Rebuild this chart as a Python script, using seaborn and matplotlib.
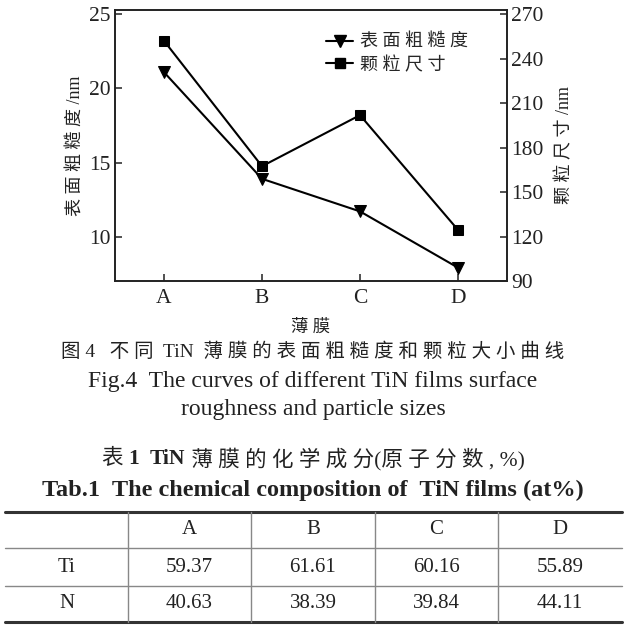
import matplotlib
matplotlib.use("Agg")
import matplotlib.pyplot as plt
from matplotlib.lines import Line2D
import seaborn as sns
import pandas as pd

# ---- data ----
films = ["A", "B", "C", "D"]
roughness = [21.1, 13.9, 11.7, 7.9]          # 表面粗糙度 /nm (left axis)
grain_size = [252.2, 167.5, 202.0, 124.5]    # 颗粒尺寸 /nm (right axis)
left_ticks = [10, 15, 20, 25]
right_ticks = [90, 120, 150, 180, 210, 240, 270]

table_cols = ["A", "B", "C", "D"]
table_rows = ["Ti", "N"]
ti_vals = ["59.37", "61.61", "60.16", "55.89"]
n_vals = ["40.63", "38.39", "39.84", "44.11"]

sns.set_style("ticks")
plt.rcParams['font.family'] = ['Liberation Serif', 'Noto Sans CJK SC']
plt.rcParams['axes.unicode_minus'] = False

W, H = 626, 629
fig = plt.figure(figsize=(W / 100, H / 100), dpi=100)

ax = fig.add_axes([115 / W, 1 - 281 / H, (507 - 115) / W, (281 - 10) / H])
df = pd.DataFrame({"film": films, "rough": roughness, "size": grain_size})

sns.lineplot(data=df, x="film", y="rough", marker="v", markersize=8,
             color="black", linewidth=1.5, markeredgecolor="black", ax=ax,
             sort=False)
ax2 = ax.twinx()
sns.lineplot(data=df, x="film", y="size", marker="s", markersize=6.5,
             color="black", linewidth=1.5, markeredgecolor="black", ax=ax2,
             sort=False)

ax.set_xlim(-0.5, 3.5)
ax.set_ylim(7, 25.3)
ax2.set_ylim(90, 273)
ax.set_yticks(left_ticks)
ax2.set_yticks(right_ticks)

for a in (ax, ax2):
    for s in a.spines.values():
        s.set_linewidth(1.2)
        s.set_color("#222222")
    a.tick_params(direction="in", length=5, width=1.1, color="#222222",
                  labelsize=15.5, labelcolor="#222222")
ax.tick_params(axis="y", pad=3)
ax.tick_params(axis="x", pad=6)
ax2.tick_params(axis="y", pad=3)

ax.set_xlabel("薄 膜", fontsize=12.5, color="#222222", labelpad=8)
ax.set_ylabel("表 面 粗 糙 度 /nm", fontsize=13, color="#222222", labelpad=3)
ax2.set_ylabel("颗 粒 尺 寸 /nm", fontsize=13, color="#222222", labelpad=9)

handles = [Line2D([], [], color="black", marker="v", markersize=8, linewidth=1.5),
           Line2D([], [], color="black", marker="s", markersize=6.5, linewidth=1.5)]
fig.legend(handles, ["表 面 粗 糙 度", "颗 粒 尺 寸"], loc="upper left",
           bbox_to_anchor=(326 / W, 1 - 34 / H), frameon=False, fontsize=13,
           handlelength=1.5, handletextpad=0.4, labelspacing=0.3,
           borderpad=0, borderaxespad=0)

# ---- captions and table (overlay in pixel coordinates) ----
ov = fig.add_axes([0, 0, 1, 1], zorder=-1)
ov.set_xlim(0, W)
ov.set_ylim(H, 0)
ov.axis("off")

tc = "#222222"
ov.text(W / 2, 352, "图 4   不 同  TiN  薄 膜 的 表 面 粗 糙 度 和 颗 粒 大 小 曲 线",
        ha="center", va="center", fontsize=14, color=tc)
ov.text(W / 2, 382, "Fig.4  The curves of different TiN films surface",
        ha="center", va="center", fontsize=17, color=tc)
ov.text(W / 2, 410, "roughness and particle sizes",
        ha="center", va="center", fontsize=17, color=tc)

# mixed-weight title line for the table
renderer = fig.canvas.get_renderer()
pieces = [("表 ", "normal"), ("1", "bold"), ("  ", "normal"), ("TiN", "bold"),
          (" 薄 膜 的 化 学 成 分(原 子 分 数 , %)", "normal")]
objs = []
for txt, wt in pieces:
    t = ov.text(0, 459, txt, ha="left", va="center", fontsize=15.5,
                fontweight=wt, color=tc)
    objs.append(t)
widths = [o.get_window_extent(renderer).width for o in objs]
x0 = W / 2 - sum(widths) / 2
for o, w in zip(objs, widths):
    o.set_x(x0)
    x0 += w

ov.text(W / 2, 490, "Tab.1  The chemical composition of  TiN films (at%)",
        ha="center", va="center", fontsize=17.5, fontweight="bold", color=tc)

col_edges = [5, 128, 251, 375, 498, 622]
row_edges = [512, 548, 586, 622]
ov.plot([5, 622], [512, 512], color="#333333", lw=2.2)
ov.plot([5, 622], [622, 622], color="#333333", lw=2.2)
ov.plot([5, 622], [548, 548], color="#888888", lw=1.0)
ov.plot([5, 622], [586, 586], color="#888888", lw=1.0)
for xe in col_edges[1:-1]:
    ov.plot([xe, xe], [512, 622], color="#888888", lw=1.0)

centers_x = [(col_edges[i] + col_edges[i + 1]) / 2 for i in range(5)]
centers_y = [(row_edges[i] + row_edges[i + 1]) / 2 for i in range(3)]
for j, c in enumerate(table_cols):
    ov.text(centers_x[j + 1], centers_y[0], c, ha="center", va="center",
            fontsize=15, color=tc)
for i, (r, vals) in enumerate(zip(table_rows, [ti_vals, n_vals])):
    ov.text(centers_x[0], centers_y[i + 1], r, ha="center", va="center",
            fontsize=15, color=tc)
    for j, v in enumerate(vals):
        ov.text(centers_x[j + 1], centers_y[i + 1], v, ha="center", va="center",
                fontsize=15, color=tc)

fig.savefig("out.png", dpi=100)
